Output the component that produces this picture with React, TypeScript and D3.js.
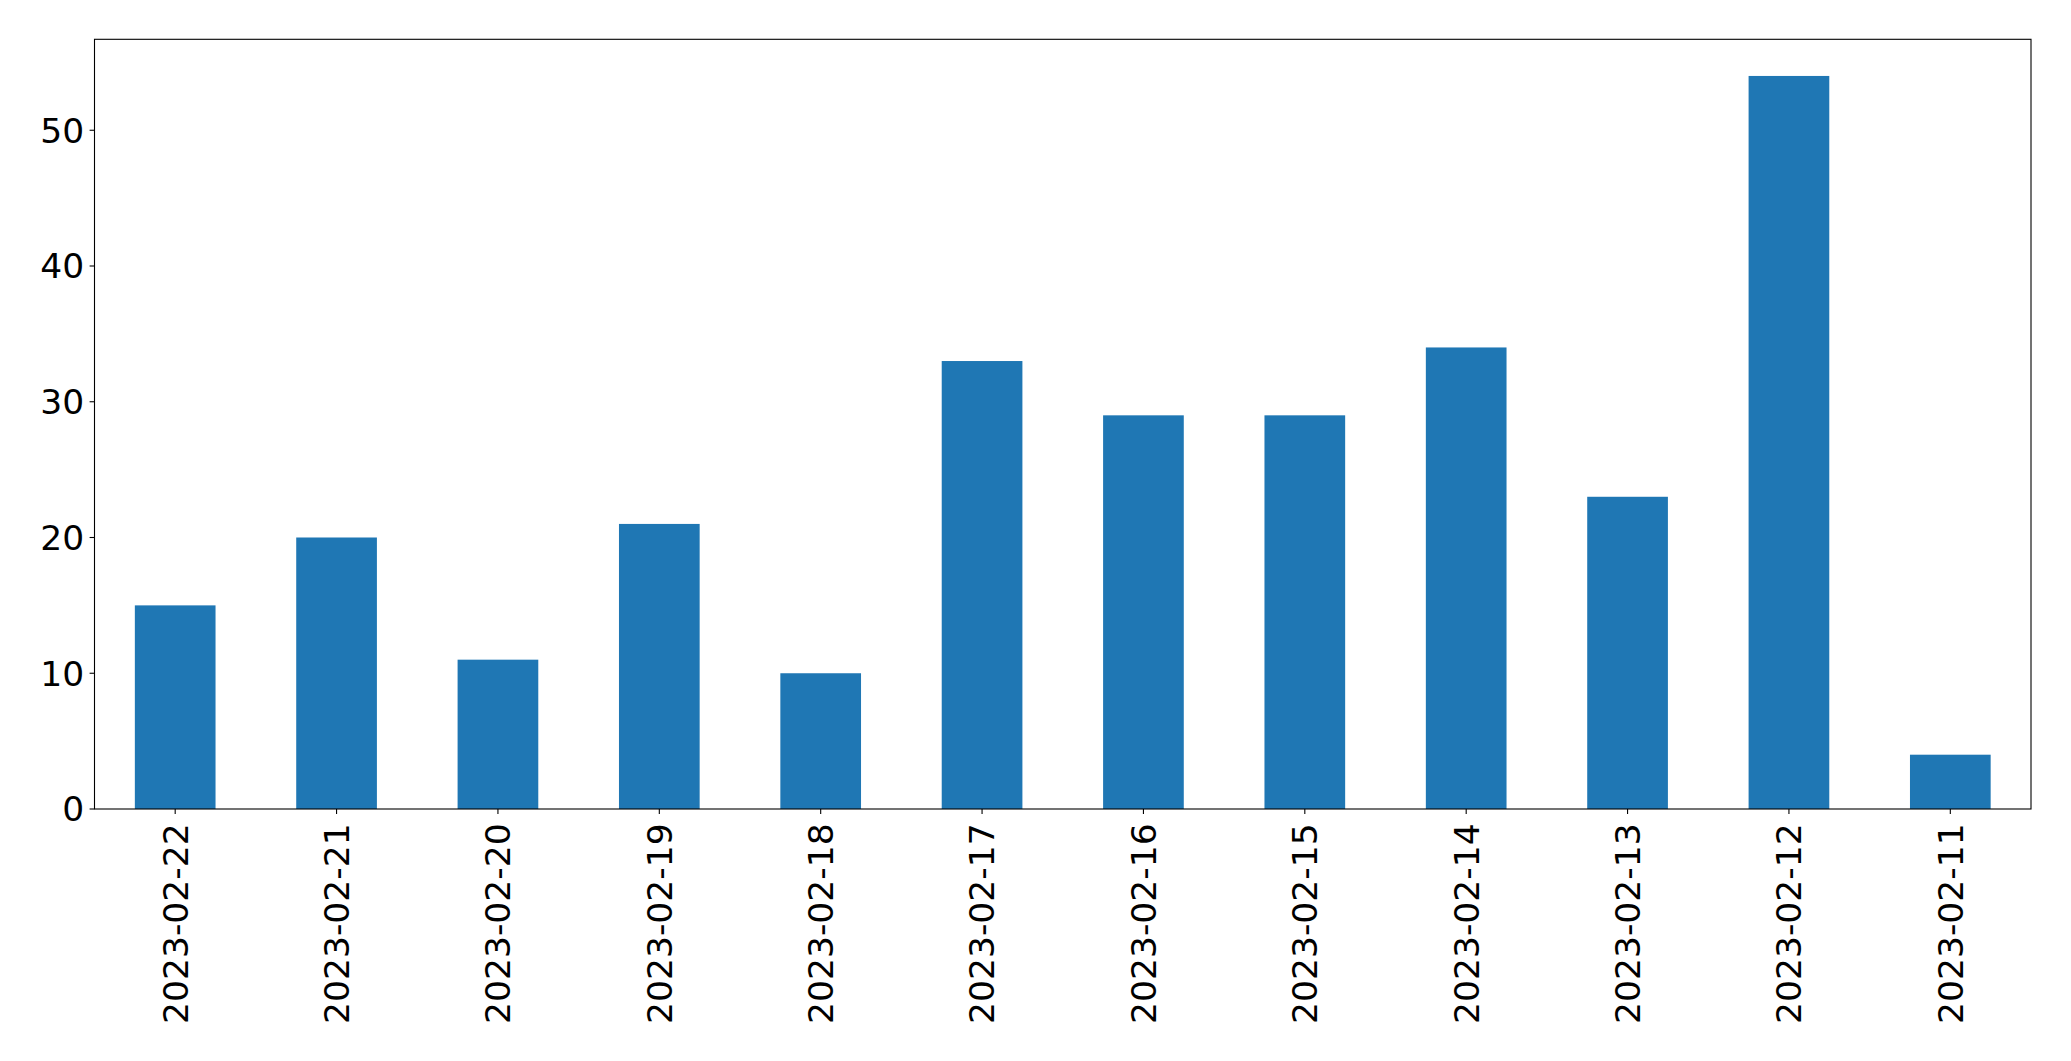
import React from "react";
import * as d3 from "d3";

const categories = ["2023-02-22","2023-02-21","2023-02-20","2023-02-19","2023-02-18","2023-02-17","2023-02-16","2023-02-15","2023-02-14","2023-02-13","2023-02-12","2023-02-11"];
const values = [15, 20, 11, 21, 10, 33, 29, 29, 34, 23, 54, 4];
const yTicks = [0, 10, 20, 30, 40, 50];

const W = 2071, H = 1061;
const L = 94.5, R = 2031, T = 39.3, B = 809;
const FONT = "DejaVu Sans, sans-serif";
const FS = 34.5;
const TICK = 4.9;
const PAD = 5.5;
const XPAD = 9.5;

export default function App() {
  const x = d3.scaleLinear().domain([-0.5, categories.length - 0.5]).range([L, R]);
  const y = d3.scaleLinear().domain([0, d3.max(values)! * 1.05]).range([B, T]);
  const bw = x(0.25) - x(-0.25);
  return (
    <svg width={W} height={H} style={{ position: "absolute", left: 0, top: 0, background: "#fff" }} fontFamily={FONT}>
      <rect x={0} y={0} width={W} height={H} fill="#fff" />
      {values.map((v, i) => (
        <rect key={i} x={x(i) - bw / 2} y={y(v)} width={bw} height={y(0) - y(v)} fill="#1f77b4" />
      ))}
      <rect x={L} y={T} width={R - L} height={B - T} fill="none" stroke="#000" strokeWidth={1.1} />
      {yTicks.map((t) => (
        <g key={t}>
          <line x1={L - TICK} x2={L} y1={y(t)} y2={y(t)} stroke="#000" strokeWidth={1.1} />
          <text x={L - TICK - PAD} y={y(t)} dy="0.36em" textAnchor="end" fontSize={FS} fill="#000">{t}</text>
        </g>
      ))}
      {categories.map((c, i) => (
        <g key={c}>
          <line x1={x(i)} x2={x(i)} y1={B} y2={B + TICK} stroke="#000" strokeWidth={1.1} />
          <text transform={`translate(${x(i)},${B + TICK + XPAD}) rotate(-90)`} dy="0.36em" textAnchor="end" fontSize={FS} fill="#000">{c}</text>
        </g>
      ))}
    </svg>
  );
}
